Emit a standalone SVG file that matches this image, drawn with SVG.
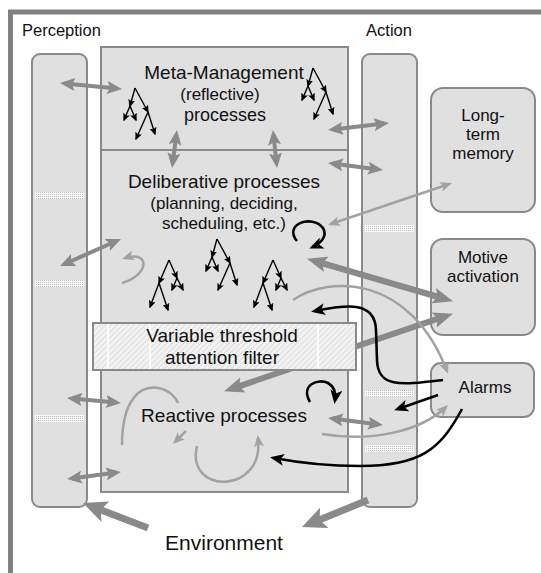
<svg xmlns="http://www.w3.org/2000/svg" width="541" height="573" viewBox="0 0 541 573">
  <style>
    .box { fill: #e0e0e0; stroke: #8a8a8a; stroke-width: 2; }
    .lbl { font-family: "Liberation Sans", Arial, sans-serif; fill: #111; text-anchor: middle; }
    .g4 { fill: none; stroke: #8a8a8a; stroke-width: 4; marker-start: url(#gh); marker-end: url(#gh); }
    .g6 { fill: none; stroke: #8a8a8a; stroke-width: 6; marker-start: url(#gt); marker-end: url(#gt); }
    .env { fill: none; stroke: #8a8a8a; stroke-width: 7; marker-end: url(#ge); }
    .lt { fill: none; stroke: #a2a2a2; stroke-width: 2.5; marker-end: url(#lh); }
    .bk { fill: none; stroke: #000; stroke-width: 2.6; marker-end: url(#bh); }
    .tr line { stroke: #000; stroke-width: 1.4; marker-end: url(#th); }
  </style>
  <defs>
    <marker id="gh" markerUnits="userSpaceOnUse" markerWidth="15" markerHeight="13" refX="10" refY="6.5" orient="auto-start-reverse">
      <path d="M0,0 L15,6.5 L0,13 L3,6.5 z" fill="#8a8a8a"/>
    </marker>
    <marker id="gt" markerUnits="userSpaceOnUse" markerWidth="20" markerHeight="16" refX="12" refY="8" orient="auto-start-reverse">
      <path d="M0,0 L20,8 L0,16 L4,8 z" fill="#8a8a8a"/>
    </marker>
    <marker id="ge" markerUnits="userSpaceOnUse" markerWidth="24" markerHeight="22" refX="16" refY="11" orient="auto">
      <path d="M0,0 L24,11 L0,22 L5,11 z" fill="#8a8a8a"/>
    </marker>
    <marker id="lh" markerUnits="userSpaceOnUse" markerWidth="12" markerHeight="10" refX="9" refY="5" orient="auto-start-reverse">
      <path d="M0,0 L12,5 L0,10 L3,5 z" fill="#a2a2a2"/>
    </marker>
    <marker id="bh" markerUnits="userSpaceOnUse" markerWidth="14" markerHeight="12" refX="10" refY="6" orient="auto">
      <path d="M0,0 L14,6 L0,12 L3.5,6 z" fill="#000"/>
    </marker>
    <marker id="th" markerUnits="userSpaceOnUse" markerWidth="8" markerHeight="7" refX="6.5" refY="3.5" orient="auto">
      <path d="M0,0 L8,3.5 L0,7 L1.5,3.5 z" fill="#000"/>
    </marker>
    <pattern id="dots" patternUnits="userSpaceOnUse" width="2" height="2">
      <rect width="2" height="2" fill="#f8f8f8"/>
      <rect width="1" height="1" fill="#bdbdbd"/>
    </pattern>
    <pattern id="hatch" patternUnits="userSpaceOnUse" width="4" height="4" patternTransform="rotate(45)">
      <rect width="4" height="4" fill="#f3f3f3"/>
      <line x1="0" y1="0" x2="0" y2="4" stroke="#d2d2d2" stroke-width="1.4"/>
    </pattern>
    <!-- branching process trees -->
    <g id="treeA" class="tr">
      <line x1="0" y1="0" x2="-10" y2="23"/>
      <line x1="-10" y1="23" x2="-19" y2="47"/>
      <line x1="-10" y1="23" x2="-1" y2="50"/>
      <line x1="0" y1="0" x2="8" y2="18"/>
      <line x1="8" y1="18" x2="3" y2="30"/>
      <line x1="8" y1="18" x2="14" y2="30"/>
    </g>
    <g id="treeB" class="tr">
      <line x1="0" y1="0" x2="-5" y2="18"/>
      <line x1="-5" y1="18" x2="-11" y2="32"/>
      <line x1="-5" y1="18" x2="1" y2="32"/>
      <line x1="0" y1="0" x2="13" y2="24"/>
      <line x1="13" y1="24" x2="1" y2="51"/>
      <line x1="13" y1="24" x2="20" y2="46"/>
    </g>
  </defs>

  <rect width="541" height="573" fill="#fff"/>
  <!-- outer frame -->
  <path d="M10.5,573 V12 H541" fill="none" stroke="#808080" stroke-width="5"/>

  <g id="perception">
    <text class="lbl" x="22" y="36" font-size="16.5" style="text-anchor:start">Perception</text>
    <rect class="box" x="32" y="54" width="55" height="453" rx="8"/>
    <rect x="35" y="192" width="49" height="7" fill="url(#dots)"/>
    <rect x="35" y="280" width="49" height="7" fill="url(#dots)"/>
    <rect x="35" y="415" width="49" height="7" fill="url(#dots)"/>
  </g>

  <g id="action">
    <text class="lbl" x="389" y="36" font-size="16.5">Action</text>
    <rect class="box" x="362" y="54" width="55" height="453" rx="8"/>
    <rect x="365" y="225" width="49" height="7" fill="url(#dots)"/>
    <rect x="365" y="390" width="49" height="7" fill="url(#dots)"/>
    <rect x="365" y="445" width="49" height="7" fill="url(#dots)"/>
  </g>

  <g id="central">
    <rect class="box" x="101" y="47" width="247" height="445"/>
    <line x1="101" y1="150" x2="348" y2="150" stroke="#8a8a8a" stroke-width="2"/>
  </g>

  <g id="meta-management">
    <text class="lbl" x="224" y="79" font-size="19">Meta-Management</text>
    <text class="lbl" x="220" y="100" font-size="17">(reflective)</text>
    <text class="lbl" x="225" y="121" font-size="18">processes</text>
    <use href="#treeB" x="135" y="88"/>
    <use href="#treeB" x="313" y="68"/>
  </g>

  <g id="deliberative">
    <text class="lbl" x="224" y="188" font-size="19">Deliberative processes</text>
    <text class="lbl" x="224" y="209" font-size="17">(planning, deciding,</text>
    <text class="lbl" x="224" y="229" font-size="17">scheduling, etc.)</text>
    <use href="#treeA" x="169" y="260"/>
    <use href="#treeB" x="217" y="239"/>
    <use href="#treeA" x="273" y="260"/>
  </g>

  <g id="reactive">
    <text class="lbl" x="224" y="422" font-size="19">Reactive processes</text>
  </g>

  <g id="long-term-memory">
    <rect class="box" x="431" y="88" width="104" height="124" rx="12"/>
    <text class="lbl" x="483" y="121" font-size="17">Long-</text>
    <text class="lbl" x="483" y="140" font-size="17">term</text>
    <text class="lbl" x="483" y="159" font-size="17">memory</text>
  </g>

  <g id="motive-activation">
    <rect class="box" x="431" y="239" width="104" height="96" rx="12"/>
    <text class="lbl" x="483" y="263" font-size="17">Motive</text>
    <text class="lbl" x="483" y="282" font-size="17">activation</text>
  </g>

  <g id="alarms">
    <rect class="box" x="431" y="363" width="103" height="54" rx="10"/>
    <text class="lbl" x="485" y="393" font-size="17">Alarms</text>
  </g>

  <text class="lbl" x="224" y="550" font-size="21">Environment</text>

  <g id="connectors">
    <!-- grey two-way links -->
    <line class="g4" x1="65" y1="83.5" x2="117" y2="88.5"/>
    <line class="g4" x1="176.3" y1="135" x2="172.7" y2="163"/>
    <line class="g4" x1="273.5" y1="135" x2="276.5" y2="163"/>
    <line class="g4" x1="333" y1="129.4" x2="384" y2="123.6"/>
    <line class="g4" x1="333" y1="163.6" x2="378" y2="169.4"/>
    <line class="g4" x1="64.6" y1="264" x2="116.4" y2="241"/>
    <line class="g4" x1="72" y1="398.5" x2="116" y2="402.5"/>
    <line class="g4" x1="72" y1="478.4" x2="116" y2="472.6"/>
    <line class="g4" x1="333" y1="418.6" x2="378" y2="424.4"/>
    <line class="lt" x1="330.8" y1="224" x2="449.2" y2="184" style="marker-start:url(#lh)"/>
    <!-- motive activation links -->
    <line class="g6" x1="314.7" y1="261" x2="445.3" y2="299"/>
    <line class="g6" x1="231.6" y1="388.8" x2="445.4" y2="316.2"/>
    <!-- environment -->
    <line class="env" x1="148" y1="528" x2="90.5" y2="505.9"/>
    <line class="env" x1="368" y1="500" x2="309.4" y2="524"/>
    <!-- light grey curves -->
    <path class="lt" d="M122,283 C150,275 150,250 125,258"/>
    <path d="M122,445 C122,400 140,385 158,388 C170,390 176,398 178,403" fill="none" stroke="#a2a2a2" stroke-width="2.5"/>
    <path class="lt" d="M186,431 L175,442"/>
    <path class="lt" d="M197,446 C185,495 265,495 258,438"/>
    <path class="lt" d="M293,300 C330,275 410,275 447,371"/>
    <path class="lt" d="M322,434 C370,442 420,432 446,407"/>
    <!-- black curves -->
    <path class="bk" d="M297,241 C283,224 312,214 323,228 C328,236 320,244 313,247"/>
    <path class="bk" d="M443,380 C400,385 378,388 377,360 L376,330 C375,300 345,305 315,311"/>
    <path class="bk" d="M438,395 L398,409"/>
    <path class="bk" d="M462,409 C440,450 420,466 360,466 C320,466 295,462 274,458"/>
    <path class="bk" d="M310,402 C300,385 318,378 328,383 C335,387 336,393 335,400"/>
  </g>

  <g id="attention-filter">
    <rect x="93" y="323" width="263" height="47" fill="url(#hatch)" stroke="#8a8a8a" stroke-width="2"/>
    <g stroke="#fff" stroke-width="1.5">
      <line x1="108" y1="324" x2="108" y2="369"/>
      <line x1="150" y1="324" x2="150" y2="369"/>
      <line x1="318" y1="324" x2="318" y2="369"/>
    </g>
    <text class="lbl" x="222" y="342" font-size="19">Variable threshold</text>
    <text class="lbl" x="222" y="364" font-size="19">attention filter</text>
  </g>
</svg>
